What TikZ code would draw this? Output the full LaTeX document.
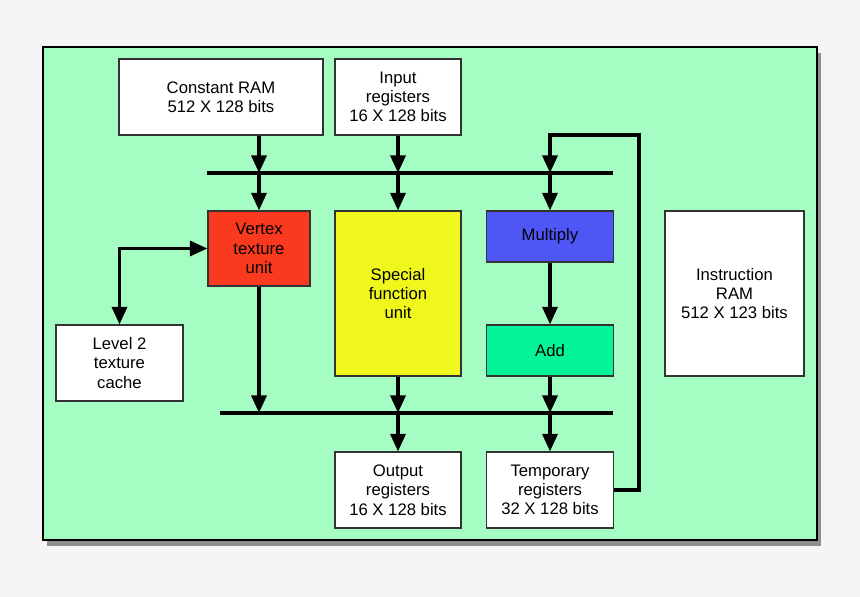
\documentclass[tikz,border=0pt]{standalone}
\usepackage{fontspec}
\setmainfont{Liberation Sans}
\usetikzlibrary{arrows.meta,shadows}
\definecolor{outergray}{RGB}{245,245,245}
\definecolor{panelgreen}{RGB}{166,253,196}
\definecolor{vtured}{RGB}{250,58,30}
\definecolor{sfuyellow}{RGB}{240,247,28}
\definecolor{mulblue}{RGB}{78,87,246}
\definecolor{addgreen}{RGB}{4,245,152}
\begin{document}
\begin{tikzpicture}
[x=0.02cm, y=-0.02cm,
 font=\fontsize{9.5}{11}\selectfont,
 block/.style ={rectangle, draw=black!80, line width=0.6pt, fill=white, align=center, inner sep=0pt},
 wire/.style ={draw, line width=2pt},
 arr/.style ={wire, -{Triangle[length=10pt,width=8.5pt]}},
 darr/.style ={wire, {Triangle[length=10pt,width=8.5pt]}-{Triangle[length=10pt,width=8.5pt]}}]
\useasboundingbox[fill=outergray] (0,0) rectangle (860,597);
\draw[fill=panelgreen, line width=0.8pt, drop shadow={shadow xshift=2.5pt, shadow yshift=-3.5pt, opacity=0.6, fill=black!70}] (43,47) rectangle (817,540);
% blocks
\path (221,97) node[block, minimum width=4.08cm, minimum height=1.52cm] (cram) {Constant RAM\\512 X 128 bits}
      (398,97) node[block, minimum width=2.52cm, minimum height=1.52cm] (inreg) {Input\\registers\\16 X 128 bits}
      (259,248.5) node[block, fill=vtured, minimum width=2.04cm, minimum height=1.5cm] (vtu) {Vertex\\texture\\unit}
      (398,293.5) node[block, fill=sfuyellow, minimum width=2.52cm, minimum height=3.3cm] (sfu) {Special\\function\\unit}
      (550,236.5) node[block, fill=mulblue, minimum width=2.54cm, minimum height=1.02cm] (mul) {Multiply}
      (550,350.5) node[block, fill=addgreen, minimum width=2.54cm, minimum height=1.02cm] (add) {Add}
      (734.5,293.5) node[block, minimum width=2.78cm, minimum height=3.3cm] (iram) {Instruction\\RAM\\512 X 123 bits}
      (119.5,363) node[block, minimum width=2.54cm, minimum height=1.52cm] (ltc) {Level 2\\texture\\cache}
      (398,490) node[block, minimum width=2.52cm, minimum height=1.52cm] (outreg) {Output\\registers\\16 X 128 bits}
      (550,490) node[block, minimum width=2.54cm, minimum height=1.52cm] (tmpreg) {Temporary\\registers\\32 X 128 bits};
% buses
\coordinate (tbusL) at (207,173);
\coordinate (tbusR) at (613,173);
\coordinate (bbusL) at (220,413);
\coordinate (bbusR) at (613,413);
\coordinate (loop) at (639,135);
\draw[wire] (tbusL) -- (tbusR);
\draw[wire] (bbusL) -- (bbusR);
% into the top bus
\draw[arr] (vtu.north |- cram.south) -- (vtu.north |- tbusL);
\draw[arr] (inreg.south) -- (inreg.south |- tbusL);
\draw[arr] (tmpreg.east) -| (loop) -| (mul.north |- tbusL);
% out of the top bus
\draw[arr] (vtu.north |- tbusL) -- (vtu.north);
\draw[arr] (sfu.north |- tbusL) -- (sfu.north);
\draw[arr] (mul.north |- tbusL) -- (mul.north);
\draw[arr] (mul.south) -- (add.north);
\draw[darr] (vtu.west) -| (ltc.north);
% into the bottom bus
\draw[arr] (vtu.south) -- (vtu.south |- bbusL);
\draw[arr] (sfu.south) -- (sfu.south |- bbusL);
\draw[arr] (add.south) -- (add.south |- bbusL);
% out of the bottom bus
\draw[arr] (outreg.north |- bbusL) -- (outreg.north);
\draw[arr] (tmpreg.north |- bbusL) -- (tmpreg.north);
\end{tikzpicture}
\end{document}
